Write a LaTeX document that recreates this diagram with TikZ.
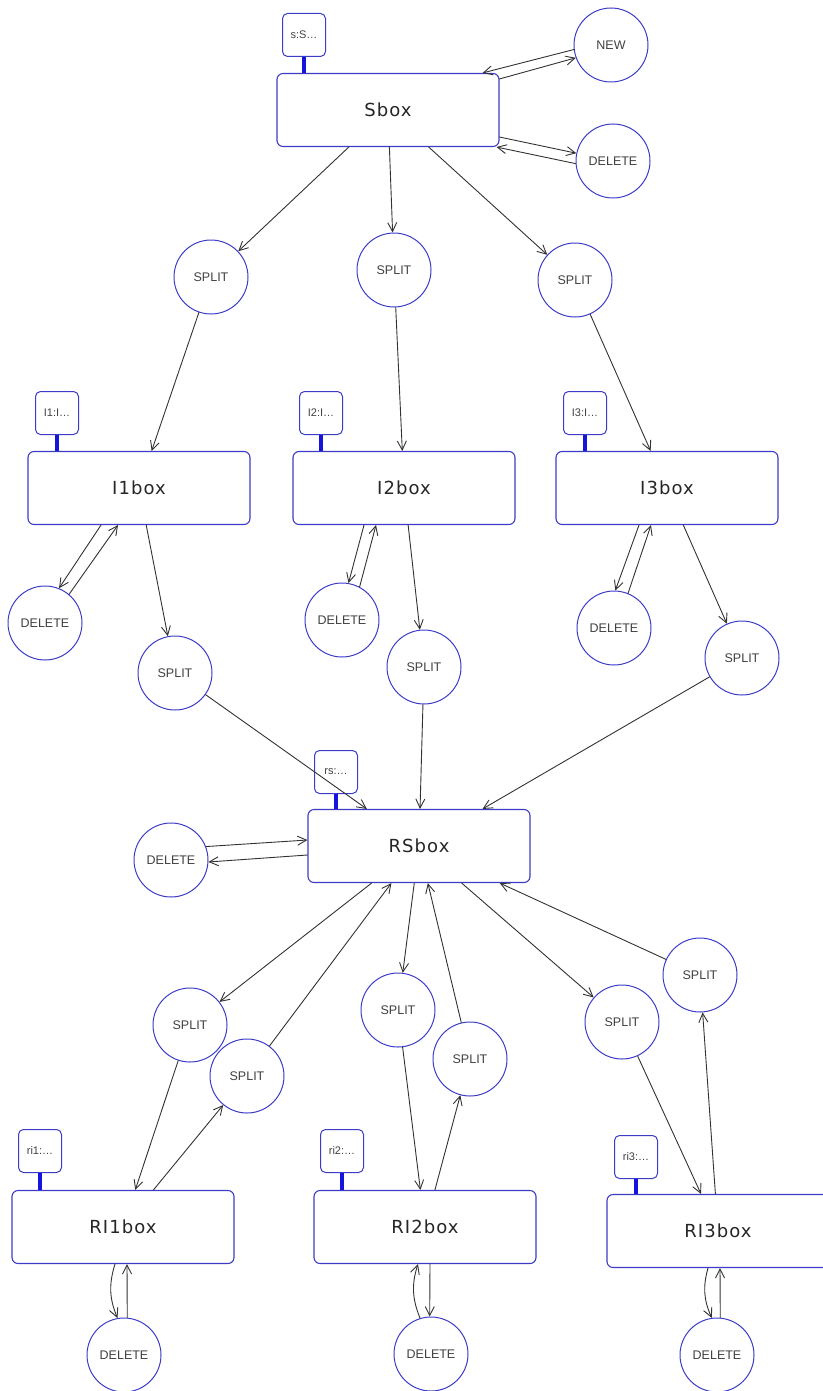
\documentclass[tikz,border=0pt]{standalone}
\usepackage{fontspec}
\setmainfont{Liberation Sans}
\newfontfamily\boxfont[LetterSpace=6]{DejaVu Sans}
\usetikzlibrary{arrows.meta}
\definecolor{nodeblue}{RGB}{60,60,200}
\definecolor{stemblue}{RGB}{20,20,220}
\definecolor{edgegray}{RGB}{50,50,50}
\definecolor{textgray}{RGB}{65,65,65}
\begin{document}
\begin{tikzpicture}[x=1pt,y=-1pt,line join=round,line cap=round,>={Straight Barb[length=9pt,width=9pt]},
	obj/.style={draw=nodeblue,line width=1.1pt,rounded corners=6pt,fill=white,minimum width=222pt,minimum height=73pt,font=\boxfont\fontsize{18}{21}\selectfont,text=black!85},
	act/.style={circle,draw=nodeblue,line width=1pt,fill=white,minimum size=74pt,inner sep=0pt,font=\fontsize{12.5}{14}\selectfont,text=textgray},
	tag/.style={draw=nodeblue,line width=1pt,rounded corners=5pt,fill=white,minimum width=43pt,minimum height=43pt,inner sep=1pt,font=\fontsize{11}{13}\selectfont,text=textgray},
	stem/.style={stemblue,line width=4pt,line cap=butt},
	link/.style={->,edgegray,line width=0.9pt}]
		\useasboundingbox (0,0) rectangle (822,1391);
		% top level
		\node[obj] (sbox) at (388,110) {Sbox};
		\node[tag] (stag) at (304,35) {s:S\ldots};
		\node[act] (snew) at (611,45) {NEW};
		\node[act] (sdel) at (613,161) {DELETE};
		\node[act] (ssp1) at (211,277) {SPLIT};
		\node[act] (ssp2) at (394,270) {SPLIT};
		\node[act] (ssp3) at (575,280) {SPLIT};
		% middle level
		\node[obj] (i1box) at (139,488) {I1box};
		\node[obj] (i2box) at (404,488) {I2box};
		\node[obj] (i3box) at (667,488) {I3box};
		\node[tag] (i1tag) at (57,413) {I1:I\ldots};
		\node[tag] (i2tag) at (321,413) {I2:I\ldots};
		\node[tag] (i3tag) at (585,413) {I3:I\ldots};
		\node[act] (i1del) at (45,623) {DELETE};
		\node[act] (i2del) at (342,620) {DELETE};
		\node[act] (i3del) at (614,628) {DELETE};
		\node[act] (i1sp) at (175,673) {SPLIT};
		\node[act] (i2sp) at (424,667) {SPLIT};
		\node[act] (i3sp) at (742,658) {SPLIT};
		% join
		\node[obj] (rsbox) at (419,846) {RSbox};
		\node[tag] (rstag) at (336,772) {rs:\ldots};
		\node[act] (rsdel) at (171,860) {DELETE};
		\node[act] (rssp1) at (190,1025) {SPLIT};
		\node[act] (rssp2) at (398,1010) {SPLIT};
		\node[act] (rssp3) at (622,1022) {SPLIT};
		\node[act] (ri1sp) at (247,1076) {SPLIT};
		\node[act] (ri2sp) at (470,1059) {SPLIT};
		\node[act] (ri3sp) at (700,975) {SPLIT};
		% bottom level
		\node[obj] (ri1box) at (123,1227) {RI1box};
		\node[obj] (ri2box) at (425,1227) {RI2box};
		\node[obj] (ri3box) at (718,1231) {RI3box};
		\node[tag] (ri1tag) at (40,1151) {ri1:\ldots};
		\node[tag] (ri2tag) at (342,1151) {ri2:\ldots};
		\node[tag] (ri3tag) at (636,1157) {ri3:\ldots};
		\node[act] (ri1del) at (124,1355) {DELETE};
		\node[act] (ri2del) at (431,1354) {DELETE};
		\node[act] (ri3del) at (717,1355) {DELETE};
		% tag stems
		\foreach \t/\b in {stag/sbox,i1tag/i1box,i2tag/i2box,i3tag/i3box,rstag/rsbox,ri1tag/ri1box,ri2tag/ri2box,ri3tag/ri3box}
			\draw[stem] (\t.south) -- (\t.south |- \b.north);
		% single links
		\foreach \a/\b in {sbox/ssp1,sbox/ssp2,sbox/ssp3,ssp1/i1box,ssp2/i2box,ssp3/i3box,
			i1box/i1sp,i2box/i2sp,i3box/i3sp,i1sp/rsbox,i2sp/rsbox,i3sp/rsbox,
			rsbox/rssp1,rsbox/rssp2,rsbox/rssp3,ri1sp/rsbox,ri2sp/rsbox,ri3sp/rsbox,
			rssp1/ri1box,rssp2/ri2box,rssp3/ri3box,ri1box/ri1sp,ri2box/ri2sp,ri3box/ri3sp}
			\draw[link] (\a) -- (\b);
		% paired links
		\draw[link] ([yshift=-6pt]sbox.north east) -- (snew.200);
		\draw[link] (snew.187) -- ([xshift=-17pt]sbox.north east);
		\draw[link] ([yshift=10pt]sbox.south east) -- (sdel.168);
		\draw[link] (sdel.184) -- ([xshift=-3pt]sbox.south east);
		\draw[link] ([xshift=-38pt]i1box.south) -- (i1del.68);
		\draw[link] (i1del.50) -- ([xshift=-21pt]i1box.south);
		\draw[link] ([xshift=-40pt]i2box.south) -- (i2del.80);
		\draw[link] (i2del.62) -- ([xshift=-28pt]i2box.south);
		\draw[link] ([xshift=-28pt]i3box.south) -- (i3del.88);
		\draw[link] (i3del.68) -- ([xshift=-16pt]i3box.south);
		\draw[link] (rsdel.21) -- ([yshift=6pt]rsbox.west);
		\draw[link] ([yshift=-9pt]rsbox.west) -- (rsdel.-3);
		\draw[link] ([xshift=-8pt]ri1box.south) to[bend right=20] (ri1del.100);
		\draw[link] (ri1del.85) -- ([xshift=4pt]ri1box.south);
		\draw[link] (ri2del.107) to[bend left=20] ([xshift=-7pt]ri2box.south);
		\draw[link] ([xshift=5pt]ri2box.south) -- (ri2del.92);
		\draw[link] ([xshift=-10pt]ri3box.south) to[bend right=20] (ri3del.98);
		\draw[link] (ri3del.85) -- ([xshift=2pt]ri3box.south);
\end{tikzpicture}
\end{document}
